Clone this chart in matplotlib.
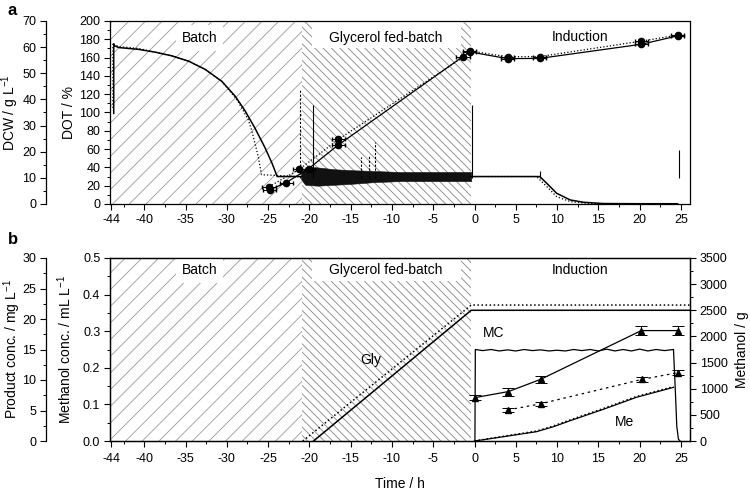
import matplotlib
matplotlib.use("Agg")
import matplotlib.pyplot as plt
import matplotlib.transforms as mtransforms
from matplotlib.patches import Rectangle
from matplotlib.ticker import MultipleLocator, FixedLocator, FormatStrFormatter

plt.rcParams["font.family"] = ["Liberation Sans", "DejaVu Sans"]
plt.rcParams["mathtext.fontset"] = "custom"
plt.rcParams["mathtext.rm"] = "Liberation Sans"
plt.rcParams["mathtext.it"] = "Liberation Sans:italic"
plt.rcParams["hatch.linewidth"] = 0.6
plt.rcParams["font.size"] = 9
plt.rcParams["axes.unicode_minus"] = False

# ---- process phases (h) ----
phase_names = ["Batch", "Glycerol fed-batch", "Induction"]
batch_span = (-44.5, -20.9)
glycerol_span = (-20.9, -0.4)

# ---- panel a: dissolved oxygen (DOT / %) ----
dot1_t = [-43.7, -43.7, -43.6, -43.1, -40.7, -38.7, -36.7, -34.6, -32.6, -30.6,
          -29.0, -27.8, -26.6, -25.4, -24.5, -23.9, -21.0]
dot1_v = [99, 175, 173, 171, 169, 166, 162, 156, 147, 134,
          118, 102, 83, 62, 44, 30, 30]
dot2_t = [-43.8, -43.8, -43.6, -43.1, -40.7, -38.7, -36.7, -34.6, -32.6, -30.6,
          -28.7, -27.4, -27.0, -26.2, -25.8, -21.1]
dot2_v = [105, 176, 174, 172, 170, 166, 162, 156, 147, 134,
          113, 92, 81, 52, 32, 30]
# noisy DOT signal during glycerol feed, drawn as its envelope
band_t = [-21.0, -20.5, -19.0, -17.0, -15.0, -12.0, -9.0, -6.0, -3.0, -0.4]
band_lo = [27, 21, 20, 21, 22, 24, 25, 25, 25, 25]
band_hi = [34, 40, 40, 38, 37, 36, 35, 35, 35, 35]
# induction phase
dot1_ind_t = [-0.4, 2.0, 4.0, 6.0, 7.9, 8.75, 9.95, 11.6, 13.2, 15.6, 20.0, 24.6]
dot1_ind_v = [30, 30, 30, 30, 30, 22.6, 11.7, 4.4, 1.9, 0.5, 0.3, 0.3]
dot2_ind_t = [-0.4, 2.0, 4.0, 6.0, 7.5, 8.75, 9.95, 11.6, 13.2, 15.6, 24.6]
dot2_ind_v = [30, 30, 30, 30, 30, 19, 8, 2.6, 1.0, 0.3, 0.3]
# sharp DOT peaks (time, peak value)
spike1_t = [-19.6, -0.35, 7.9, 24.75]
spike1_v = [108, 108, 36, 59]
spike2_t = [-21.1, -13.7, -12.8, -12.1]
spike2_v = [125, 51, 54, 68]

# ---- panel a: dry cell weight (DCW / g L-1) ----
dcw1_t = [-24.8, -22.8, -20.1, -16.5, -0.6, 4.0, 7.9, 20.2, 24.6]
dcw1_v = [5.4, 8.2, 13.5, 22.6, 58.2, 55.6, 55.7, 61.1, 64.3]
dcw2_t = [-24.9, -21.2, -16.5, -1.4, -0.6, 4.0, 7.9, 20.2, 24.6]
dcw2_v = [6.6, 13.3, 24.7, 56.1, 58.6, 56.3, 56.4, 62.3, 64.6]

# ---- panel b ----
gly1_t = [-19.5, -0.4, 26.1]
gly1_v = [0, 2500, 2500]
gly2_t = [-20.8, -0.4, 26.1]
gly2_v = [0, 2600, 2600]

mc_t = [0.05, 0.1, 1, 2, 3, 4, 5, 6, 7, 8, 9, 10, 11, 12, 13, 14, 15, 16,
        17, 18, 19, 20, 21, 22, 23, 24.1, 24.3, 24.5, 24.7, 24.9]
mc_v = [0.0, 0.250, 0.247, 0.250, 0.246, 0.249, 0.246, 0.250, 0.247, 0.249,
        0.246, 0.248, 0.246, 0.250, 0.247, 0.250, 0.246, 0.251, 0.246, 0.250,
        0.246, 0.251, 0.246, 0.250, 0.247, 0.250, 0.15, 0.04, 0.005, 0.0]

me1_t = [0, 3.5, 7.5, 9.5, 11.6, 15.6, 19.6, 24.1]
me1_v = [0, 82, 178, 270, 389, 606, 835, 1026]
me2_t = [0, 3.5, 7.5, 9.5, 11.6, 15.6, 19.6, 24.1]
me2_v = [0, 90, 190, 285, 405, 622, 850, 1040]

prod1_t = [0, 4.1, 8.0, 20.2, 24.6]
prod1_v = [7.1, 8.1, 10.1, 18.1, 18.1]
prod1_e = [0.45, 0.65, 0.6, 0.75, 0.75]
prod2_t = [4.1, 8.0, 20.3, 24.6]
prod2_v = [5.1, 6.1, 10.1, 11.2]
prod2_e = [0.35, 0.3, 0.35, 0.45]

x_major = [-44, -40, -35, -30, -25, -20, -15, -10, -5, 0, 5, 10, 15, 20, 25]
xlim = (-44.15, 26.1)

BATCH_HATCH_C = "#9a9a9a"
GLY_HATCH_C = "#858585"
LW = 0.9


def style_axes(ax):
    for s in ax.spines.values():
        s.set_linewidth(0.9)
    ax.tick_params(which="major", direction="out", length=4, width=0.8, pad=3)
    ax.tick_params(which="minor", direction="out", length=2.2, width=0.7)


def draw_phases(ax, y_text, y_ind, box_bottom):
    ax.axvspan(*batch_span, facecolor="none", edgecolor=BATCH_HATCH_C, hatch="//",
               linewidth=0, zorder=0)
    ax.axvspan(*glycerol_span, facecolor="none", edgecolor=GLY_HATCH_C,
               hatch="\\\\\\\\", linewidth=0, zorder=0)
    trans = mtransforms.blended_transform_factory(ax.transData, ax.transAxes)
    ax.add_patch(Rectangle((-19.7, box_bottom), 18.1, 1 - box_bottom,
                           transform=trans, facecolor="white", edgecolor="none",
                           zorder=1))
    ax.text(-33.3, y_text, phase_names[0], transform=trans, ha="center",
            va="center", fontsize=10, zorder=5,
            bbox=dict(boxstyle="square,pad=0.4", fc="white", ec="none"))
    ax.text(-10.7, y_text, phase_names[1], transform=trans, ha="center",
            va="center", fontsize=10, zorder=5)
    ax.text(12.8, y_ind, phase_names[2], transform=trans, ha="center",
            va="center", fontsize=10, zorder=5)


def setup_x(ax):
    ax.set_xlim(*xlim)
    ax.xaxis.set_major_locator(FixedLocator(x_major))
    ax.xaxis.set_minor_locator(MultipleLocator(2.5))


fig = plt.figure(figsize=(7.5, 4.91), dpi=100)
ax_a = fig.add_axes([110 / 750, 1 - 204 / 491, 580 / 750, 183 / 491])
ax_b = fig.add_axes([110 / 750, 1 - 441 / 491, 580 / 750, 183 / 491])

# ================= panel a =================
style_axes(ax_a)
setup_x(ax_a)
draw_phases(ax_a, 0.907, 0.914, 0.851)
ax_a.set_ylim(0, 200)
ax_a.yaxis.set_major_locator(MultipleLocator(20))
ax_a.yaxis.set_minor_locator(MultipleLocator(10))
ax_a.set_ylabel("DOT / %", fontsize=10)
ax_a.yaxis.set_label_coords(-0.058, 0.5)

ax_a.fill_between(band_t, band_lo, band_hi, color="#111111", linewidth=0.4, zorder=2)
ax_a.plot(dot2_t, dot2_v, color="black", ls=":", lw=LW, zorder=2)
ax_a.plot(dot1_t, dot1_v, color="black", lw=LW + 0.2, zorder=3)
ax_a.plot(dot2_ind_t, dot2_ind_v, color="black", ls=":", lw=LW, zorder=2)
ax_a.plot(dot1_ind_t, dot1_ind_v, color="black", lw=LW + 0.2, zorder=3)
ax_a.vlines(spike1_t, 28, spike1_v, color="black", lw=0.8, zorder=3)
ax_a.vlines(spike2_t, 28, spike2_v, color="black", lw=0.8, ls=(0, (2, 1.5)), zorder=3)

ax_dcw = ax_a.twinx()
ax_dcw.yaxis.tick_left()
ax_dcw.yaxis.set_label_position("left")
for side in ("right", "top", "bottom"):
    ax_dcw.spines[side].set_visible(False)
style_axes(ax_dcw)
ax_dcw.spines["left"].set_position(("outward", 46))
ax_dcw.set_ylim(0, 70)
ax_dcw.yaxis.set_major_locator(MultipleLocator(10))
ax_dcw.yaxis.set_minor_locator(MultipleLocator(5))
ax_dcw.set_ylabel("DCW / g L$^{-1}$", fontsize=10)
ax_dcw.yaxis.set_label_coords(-0.153, 0.5)
ax_dcw.errorbar(dcw2_t, dcw2_v, xerr=0.8, yerr=0.6, fmt="o", ls=":", color="black",
                ms=4.5, lw=LW, elinewidth=0.7, capsize=1.5)
ax_dcw.errorbar(dcw1_t, dcw1_v, xerr=0.8, yerr=0.6, fmt="o", ls="-", color="black",
                ms=4.5, lw=LW, elinewidth=0.7, capsize=1.5)

# ================= panel b =================
style_axes(ax_b)
setup_x(ax_b)
draw_phases(ax_b, 0.932, 0.932, 0.876)
ax_b.set_ylim(0, 0.5)
ax_b.yaxis.set_major_locator(MultipleLocator(0.1))
ax_b.yaxis.set_minor_locator(MultipleLocator(0.05))
ax_b.yaxis.set_major_formatter(FormatStrFormatter("%.1f"))
ax_b.set_ylabel("Methanol conc. / mL L$^{-1}$", fontsize=10)
ax_b.yaxis.set_label_coords(-0.062, 0.5)
ax_b.set_xlabel("Time / h", fontsize=10, labelpad=8)
ax_b.tick_params(axis="x", which="major", pad=5)
ax_b.plot(mc_t, mc_v, color="black", lw=LW)

ax_g = ax_b.twinx()
style_axes(ax_g)
ax_g.set_ylim(0, 3500)
ax_g.yaxis.set_major_locator(MultipleLocator(500))
ax_g.yaxis.set_minor_locator(MultipleLocator(250))
ax_g.set_ylabel("Methanol / g", fontsize=10)
ax_g.yaxis.set_label_coords(1.078, 0.5)
ax_g.plot(gly2_t, gly2_v, color="black", ls=":", lw=LW + 0.2)
ax_g.plot(gly1_t, gly1_v, color="black", lw=LW + 0.2)
ax_g.plot(me2_t, me2_v, color="black", ls=":", lw=LW + 0.2)
ax_g.plot(me1_t, me1_v, color="black", lw=LW)

ax_p = ax_b.twinx()
ax_p.yaxis.tick_left()
ax_p.yaxis.set_label_position("left")
for side in ("right", "top", "bottom"):
    ax_p.spines[side].set_visible(False)
style_axes(ax_p)
ax_p.spines["left"].set_position(("outward", 46))
ax_p.set_ylim(0, 30)
ax_p.yaxis.set_major_locator(MultipleLocator(5))
ax_p.yaxis.set_minor_locator(MultipleLocator(2.5))
ax_p.set_ylabel("Product conc. / mg L$^{-1}$", fontsize=10)
ax_p.yaxis.set_label_coords(-0.150, 0.5)
ax_p.errorbar(prod2_t, prod2_v, yerr=prod2_e, fmt="^", ls=(0, (2, 3)), color="black",
              ms=5, lw=LW, elinewidth=0.7, capsize=4, capthick=0.7)
ax_p.errorbar(prod1_t, prod1_v, yerr=prod1_e, fmt="^", ls="-", color="black",
              ms=5, lw=LW, elinewidth=0.7, capsize=4, capthick=0.7)

ax_b.text(-12.6, 0.222, "Gly", ha="center", va="center", fontsize=10, zorder=5)
ax_b.text(2.3, 0.294, "MC", ha="center", va="center", fontsize=10, zorder=5)
ax_b.text(18.2, 0.053, "Me", ha="center", va="center", fontsize=10, zorder=5)

fig.text(8 / 750, 1 - 3 / 491, "a", fontsize=12, fontweight="bold", va="top")
fig.text(8 / 750, 1 - 232 / 491, "b", fontsize=12, fontweight="bold", va="top")

fig.savefig("out.png", dpi=100)
